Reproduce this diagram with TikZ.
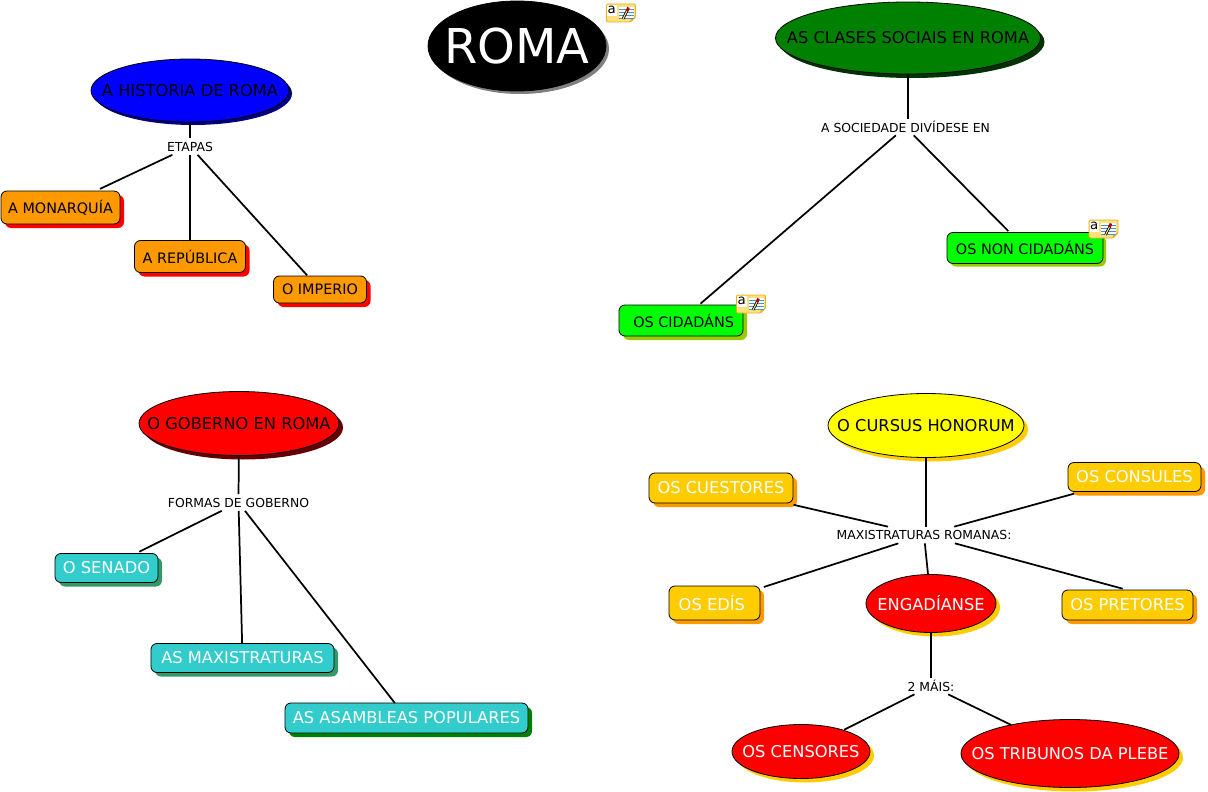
\documentclass[tikz,border=0pt]{standalone}
\usepackage{fontspec}
\setmainfont{DejaVu Sans}
\usetikzlibrary{shapes.geometric,shadows}
\definecolor{cblue}{HTML}{0000FF}
\definecolor{cnavy}{HTML}{000080}
\definecolor{cgreen}{HTML}{008000}
\definecolor{cdeep}{HTML}{003300}
\definecolor{clime}{HTML}{00FF00}
\definecolor{colive}{HTML}{99CC00}
\definecolor{cred}{HTML}{FF0000}
\definecolor{cmaroon}{HTML}{660000}
\definecolor{corange}{HTML}{FF9900}
\definecolor{cgold}{HTML}{FFCC00}
\definecolor{cyell}{HTML}{FFFF00}
\definecolor{cteal}{HTML}{33CCCC}
\definecolor{csea}{HTML}{339966}
\definecolor{cnote}{HTML}{FFE27A}
\definecolor{cnoteline}{HTML}{E8B020}
\definecolor{cpaper}{HTML}{4A8FD0}
\newcommand{\ovl}[1]{\makebox[0pt]{#1}}
\tikzset{
  wh/.style 2 args={minimum width=#1*0.75pt, minimum height=#2*0.75pt},
  base/.style={draw=black, line width=0.6pt, inner sep=0pt, outer sep=0pt, align=center},
  oval/.style={base, ellipse, fill=#1},
  box/.style={base, rectangle, rounded corners=4.5pt, fill=#1},
  drop/.style={drop shadow={shadow xshift=#1*0.75pt, shadow yshift=-#1*0.75pt, opacity=1, fill=dropcol}},
  under/.code={\colorlet{dropcol}{#1}},
  phrase/.style={inner sep=0pt, outer sep=0pt, font=\fontsize{9.3}{11}\selectfont, minimum height=12.5pt},
  txs/.style={font=\fontsize{10.8}{13}\selectfont},
  txm/.style={font=\fontsize{12.2}{14}\selectfont},
  conn/.style={line width=1.3pt, draw=black},
  pics/noteicon/.style={code={
    \fill[cnote, draw=cnoteline, line width=0.7pt, rounded corners=1pt] (0,0) -- (29,0) -- (29,13) -- (24,18) -- (0,18) -- cycle;
    \fill[cnoteline] (29,13) -- (24,13) -- (24,18) -- cycle;
    \fill[white] (0.8,0.8) rectangle (10,12);
    \node[inner sep=0pt, font=\fontsize{10}{10}\selectfont] (-a) at (5.2,6) {a};
    \fill[white] (12,3) rectangle (27,14);
    \foreach \y in {5,8,11,14} \draw[cpaper, line width=0.7pt] (12,\y) -- (27,\y);
    \draw[black, line width=2pt] (16.5,15) -- (21,6);
    \draw[cnote, line width=0.8pt] (16.5,15) -- (21,6);
    \draw[red!70!black, line width=2pt] (20.5,7) -- (22,3.5);
  }},
}
\begin{document}
\begin{tikzpicture}[x=0.75pt,y=-0.75pt]
  \useasboundingbox (0,0) rectangle (1208,792);
  % titulo
  \node[oval=black, under=gray, drop=3, wh={178}{90}, text=white, font=\fontsize{36}{40}\selectfont] (roma) at (517,46) {\ovl{ROMA}};
  \pic (noteroma) at (606.5,4) {noteicon};
  % historia
  \node[oval=cblue, under=cnavy, drop=3, wh={198}{63}, txm] (historia) at (190,90.5) {\ovl{A HISTORIA DE ROMA}};
  \node[phrase] (etapas) at (190,146.5) {ETAPAS};
  \node[box=corange, under=cred, drop=4, wh={119}{33}, txs] (monarquia) at (60.5,207.5) {A MONARQUÍA};
  \node[box=corange, under=cred, drop=4, wh={111}{32}, txs] (republica) at (190,256.5) {A REPÚBLICA};
  \node[box=corange, under=cred, drop=4, wh={93}{27}, txs] (imperio) at (320,289.5) {O IMPERIO};
  % clases sociais
  \node[oval=cgreen, under=cdeep, drop=4, wh={265}{72}, txm] (clases) at (908,38) {\ovl{AS CLASES SOCIAIS EN ROMA}};
  \node[phrase] (sociedade) at (905.5,127) {A SOCIEDADE DIVÍDESE EN};
  \node[box=clime, under=colive, drop=4, wh={124}{31}, txs] (cidadans) at (681,320.5) {\hspace*{4pt}OS CIDADÁNS};
  \node[box=clime, under=colive, drop=3, wh={156}{31}, txs] (noncidadans) at (1025,248) {OS NON CIDADÁNS};
  \pic (notecidadans) at (736.5,295) {noteicon};
  \pic (notenon) at (1089,220) {noteicon};
  % goberno
  \node[oval=cred, under=cmaroon, drop=4, wh={200}{64}, txm] (goberno) at (239,423.5) {\ovl{O GOBERNO EN ROMA}};
  \node[phrase] (formas) at (238.5,502.5) {FORMAS DE GOBERNO};
  \node[box=cteal, under=csea, drop=4, wh={103}{29}, txm, text=white] (senado) at (106.5,568) {O SENADO};
  \node[box=cteal, under=csea, drop=4, wh={183}{29}, txm, text=white] (maxistraturas) at (242.5,658) {AS MAXISTRATURAS};
  \node[box=cteal, under=cgreen, drop=4, wh={243}{30}, txm, text=white] (asambleas) at (406.5,718) {AS ASAMBLEAS POPULARES};
  % cursus honorum
  \node[oval=cyell, under=cgold, drop=4, wh={196}{64}, txm] (cursus) at (926,425.5) {\ovl{O CURSUS HONORUM}};
  \node[phrase] (romanas) at (924,535) {MAXISTRATURAS ROMANAS:};
  \node[box=cgold, under=corange, drop=4, wh={144}{30}, txm, text=white] (cuestores) at (721,488) {OS CUESTORES};
  \node[box=cgold, under=corange, drop=4, wh={133}{29}, txm, text=white] (consules) at (1134.5,477) {OS CONSULES};
  \node[box=cgold, under=corange, drop=4, wh={91}{34}, txm, text=white] (edis) at (714.5,603) {OS EDÍS\hspace*{4pt}};
  \node[box=cgold, under=corange, drop=4, wh={131}{30}, txm, text=white] (pretores) at (1127.5,605) {OS PRETORES};
  \node[oval=cred, under=cgold, drop=4, wh={130}{58}, txm, text=white] (engadianse) at (931,603.5) {\ovl{ENGADÍANSE}};
  \node[phrase] (dous) at (931,686) {2 MÁIS:};
  \node[oval=cred, under=cgold, drop=4, wh={138}{54}, txm, text=white] (censores) at (801,751.5) {\ovl{OS CENSORES}};
  \node[oval=cred, under=cgold, drop=4, wh={218}{68}, txm, text=white] (tribunos) at (1070,753.5) {\ovl{OS TRIBUNOS DA PLEBE}};
  % ligazons
  \foreach \a/\b/\s in {historia/etapas/0, etapas/monarquia/5, etapas/republica/0, etapas/imperio/1,
    sociedade/cidadans/2, sociedade/noncidadans/2,
    goberno/formas/0, formas/senado/4, formas/maxistraturas/0, formas/asambleas/0,
    romanas/cuestores/8, romanas/consules/8, romanas/edis/4, romanas/pretores.north/5, romanas/engadianse/0,
    engadianse/dous/0, dous/censores/1, dous/tribunos/0}
    \draw[conn, shorten >=\s*0.75pt] (\a) -- (\b);
  \draw[conn] (clases) -- (clases |- sociedade.north);
  \draw[conn] (cursus) -- (cursus |- romanas.north);
\end{tikzpicture}
\end{document}
